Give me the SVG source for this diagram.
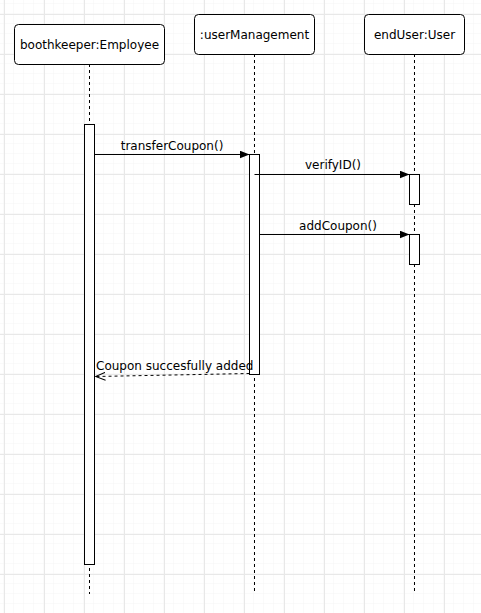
<svg xmlns="http://www.w3.org/2000/svg" width="481" height="613" viewBox="0 0 481 613">
<style>
.box{fill:#fff;stroke:#000;stroke-width:1}
.life{stroke:#000;stroke-width:1;stroke-dasharray:3 3;fill:none}
.act{fill:#fff;stroke:#000;stroke-width:1}
.msg{stroke:#000;stroke-width:1;fill:none}
.ret{stroke:#000;stroke-width:1;fill:none;stroke-dasharray:3 3}
text{font-family:"DejaVu Sans",sans-serif;font-size:12px;fill:#000}
.c{text-anchor:middle}
</style>
<defs>
<pattern id="minor" width="10" height="10" patternUnits="userSpaceOnUse" x="4" y="4">
<path d="M10 0V10M0 10H10" stroke="#f5f5f5" stroke-width="1" fill="none"/>
</pattern>
<pattern id="major" width="40" height="40" patternUnits="userSpaceOnUse" x="4" y="14">
<path d="M0.5 0V40M0 0.5H40" stroke="#e8e8e8" stroke-width="1" fill="none"/>
</pattern>
<marker id="fill" markerWidth="10" markerHeight="8" refX="10" refY="4" orient="auto" markerUnits="userSpaceOnUse">
<path d="M0 0L10 4L0 8Z" fill="#000"/>
</marker>
<marker id="open" markerWidth="10" markerHeight="10" refX="10" refY="5" orient="auto" markerUnits="userSpaceOnUse">
<path d="M0 1L10 5L0 9" fill="none" stroke="#000" stroke-width="1"/>
</marker>
</defs>
<rect width="481" height="613" fill="#fff"/>
<rect width="481" height="613" fill="url(#minor)"/>
<rect width="481" height="613" fill="url(#major)"/>

<g id="lifelines">
<line class="life" x1="89.5" y1="64" x2="89.5" y2="594"/>
<line class="life" x1="254.5" y1="54" x2="254.5" y2="592"/>
<line class="life" x1="414.5" y1="54" x2="414.5" y2="592"/>
</g>

<g id="employee">
<rect class="box" x="14.5" y="24.5" width="150" height="40" rx="4"/>
<text class="c" x="89.5" y="49">boothkeeper:Employee</text>
</g>
<g id="userManagement">
<rect class="box" x="194.5" y="14.5" width="120" height="40" rx="4"/>
<text class="c" x="254.5" y="39">:userManagement</text>
</g>
<g id="endUser">
<rect class="box" x="364.5" y="14.5" width="100" height="40" rx="4"/>
<text class="c" x="414.5" y="39">endUser:User</text>
</g>

<g id="activations">
<rect class="act" x="84.5" y="124.5" width="10" height="440"/>
<rect class="act" x="249.5" y="154.5" width="10" height="220"/>
<rect class="act" x="409.5" y="174.5" width="10" height="30"/>
<rect class="act" x="409.5" y="234.5" width="10" height="30"/>
</g>

<g id="connectors">
<line class="msg" x1="94.5" y1="154.5" x2="249.5" y2="154.5" marker-end="url(#fill)"/>
<text class="c" x="172" y="150">transferCoupon()</text>
<line class="msg" x1="254.5" y1="174.5" x2="409.5" y2="174.5" marker-end="url(#fill)"/>
<text class="c" x="333" y="169">verifyID()</text>
<line class="msg" x1="259.5" y1="234.5" x2="409.5" y2="234.5" marker-end="url(#fill)"/>
<text class="c" x="338" y="230">addCoupon()</text>
<line class="ret" x1="249.5" y1="373.5" x2="95.5" y2="376.5" marker-end="url(#open)"/>
<text x="96" y="370">Coupon succesfully added</text>
</g>
</svg>
